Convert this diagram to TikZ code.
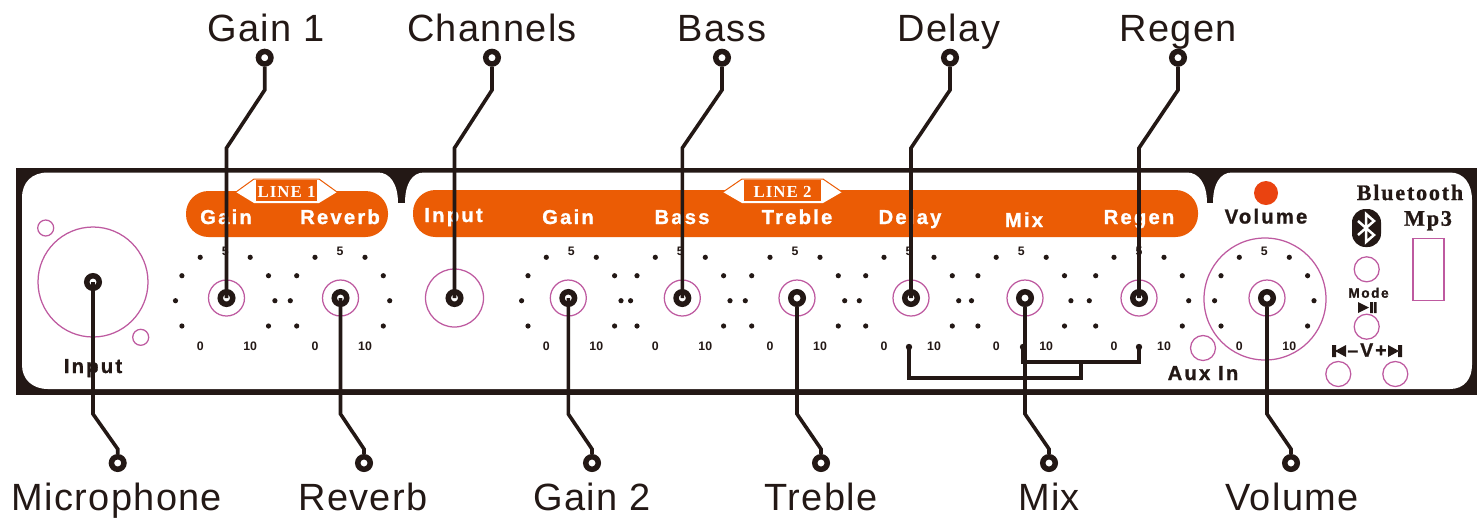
\documentclass[tikz,border=0pt]{standalone}
\usepackage{fontspec}
\setmainfont{Liberation Sans}
\newfontfamily\callfont[LetterSpace=3.5]{Liberation Sans}
\newfontfamily\panelfont[LetterSpace=11,BoldFeatures={FakeBold=1.2}]{Liberation Sans}
\newfontfamily\numfont{Liberation Sans}
\newfontfamily\tagfont[LetterSpace=6]{Liberation Serif}
\newfontfamily\bluefont[LetterSpace=8,BoldFeatures={FakeBold=1}]{Liberation Serif}
\definecolor{panelblack}{RGB}{35,24,21}
\definecolor{panelorange}{RGB}{235,92,5}
\definecolor{panelpurple}{RGB}{190,90,160}
\definecolor{panelred}{RGB}{234,67,16}
\tikzset{
  leader/.style={panelblack, line width=0.072cm, line join=miter},
  knobdisc/.style={circle, draw=panelblack, fill=white, line width=0.11cm, minimum size=0.25cm, inner sep=0pt},
  ringline/.style={panelpurple, line width=0.025cm},
  calllbl/.style={panelblack, anchor=base, font=\callfont\fontsize{21.6}{26}\selectfont},
  whitelbl/.style={white, anchor=base, font=\panelfont\bfseries\fontsize{11.5}{13}\selectfont},
  blacklbl/.style={panelblack, anchor=base, font=\panelfont\bfseries\fontsize{11.5}{13}\selectfont},
  seriflbl/.style={panelblack, anchor=base, font=\bluefont\bfseries\fontsize{12.6}{14}\selectfont},
  taglbl/.style={white, font=\tagfont\bfseries\fontsize{9.6}{11}\selectfont},
  dialnum/.style={panelblack, font=\numfont\bfseries\fontsize{7}{8}\selectfont}
}

\begin{document}
\begin{tikzpicture}[x=0.02cm, y=-0.02cm]
  \useasboundingbox (0,0) rectangle (1478,529);

  % Panel
  \fill[panelblack] (16,167.5) rectangle (1477,395);
  \fill[white] (48,172.5) -- (378,172.5) .. controls (390,172.5) and (398,184) .. (398,203)
    -- (405,203) .. controls (405,184) and (412,172.5) .. (424,172.5)
    -- (1187,172.5) .. controls (1199,172.5) and (1207,184) .. (1207,203)
    -- (1213,203) .. controls (1213,184) and (1220,172.5) .. (1232,172.5)
    -- (1450,172.5) .. controls (1464,172.5) and (1472,184) .. (1472,200)
    -- (1472,365) .. controls (1472,379) and (1464,389) .. (1450,389)
    -- (48,389) .. controls (32,389) and (22,379) .. (22,365)
    -- (22,198) .. controls (22,182) and (32,172.5) .. (48,172.5) -- cycle;

  % Orange bars
  \fill[panelorange, rounded corners=0.45cm] (186,191) rectangle (388,237);
  \fill[panelorange, rounded corners=0.45cm] (413,190) rectangle (1198,237);

  % Line tags
  \foreach \tagname/\xa/\xb/\xc/\xd/\txt in {tagA/236/254/319/337/LINE 1, tagB/723/742/823/842/LINE 2} {
    \fill[white] (\xa,192) -- (\xb,179) -- (\xc,179) -- (\xd,192) -- (\xc,203) -- (\xb,203) -- cycle;
    \fill[panelorange] (\xb+2,180) rectangle (\xc-2,201);
    \draw[panelorange, line width=0.02cm] (\xa,192) -- (\xb,179) -- (\xc,179) -- (\xd,192);
    \node[taglbl] (\tagname) at ({(\xb+\xc)/2},191.5) {\txt};
  }

  % Labels on the panel
  \foreach \lblname/\px/\py/\txt in {lblGainA/226/224/Gain, lblReverb/340/224/Reverb, lblInputA/453.5/222/Input,
    lblGainB/568/224/Gain, lblBass/682/224/Bass, lblTreble/797/224/Treble, lblDelay/910/224/Delay,
    lblMix/1024/227/Mix, lblRegen/1139/224/Regen}
    \node[whitelbl] (\lblname) at (\px,\py) {\txt};
  \node[blacklbl] (lblInputB) at (93,373) {Input};
  \node[blacklbl] (lblVolume) at (1266,223.5) {Volume};
  \node[blacklbl] (lblAux) at (1203,380) {Aux In};
  \node[blacklbl, font=\panelfont\bfseries\fontsize{7.8}{9}\selectfont] (lblMode) at (1368.5,297.7) {Mode};
  \node[blacklbl, font=\panelfont\bfseries\fontsize{11}{13}\selectfont] (lblVol) at (1367,356.7) {–V+};
  \node[seriflbl] (lblBlue) at (1410,200) {Bluetooth};
  \node[seriflbl] (lblMp) at (1428,225.7) {Mp3};

  % Dials
  \foreach \dial/\dx in {dA/225.2, dB/340, dC/571.3, dD/680.3, dE/795, dF/909, dG/1021.2, dH/1139, dI/1264.3} {
    \foreach \ox/\oy in {25/257.3, 43.3/275.7, 49.7/300.7, 43.3/326} {
      \fill[panelblack] (\dx+\ox,\oy) circle (2.6);
      \fill[panelblack] (\dx-\ox,\oy) circle (2.6);
    }
    \node[dialnum] (\dial five) at (\dx,251) {5};
    \node[dialnum] (\dial zero) at (\dx-25,346) {0};
    \node[dialnum] (\dial ten) at (\dx+25,346) {10};
  }

  % Rings
  \foreach \cx/\cy/\rr in {93/282/55, 45.7/228/8, 140.7/337.3/8, 454.5/298/29, 226.5/298/18, 340.5/298/18,
    568.3/298/18, 682.3/298/18, 797/298/18, 911/298/18, 1025/298/18, 1139/298/18, 1267/298/18,
    1265/299/61, 1203/348/12.5, 1366.7/269.3/12.5, 1366.7/326.7/12.5, 1338.3/374/12.5, 1395.3/374/12.5}
    \draw[ringline] (\cx,\cy) circle (\rr);
  \draw[ringline] (1413,238.7) rectangle (1444,300.3);
  \fill[panelred] (1266,193) circle (12);

  % Bluetooth sign and player keys
  \fill[panelblack, rounded corners=0.27cm] (1352,209) rectangle (1381,247);
  \draw[white, line width=0.05cm, line join=miter] (1358,221) -- (1374,235) -- (1366,242) -- (1366,214) -- (1374,221) -- (1358,235);
  \fill[panelblack] (1358,302) -- (1369,307.5) -- (1358,313) -- cycle;
  \fill[panelblack] (1370,302) rectangle (1373,313) (1374,302) rectangle (1376.5,313);
  \fill[panelblack] (1332,345) rectangle (1336,357) (1346,345) -- (1335,351) -- (1346,357) -- cycle;
  \fill[panelblack] (1398,345) rectangle (1402,357) (1388,345) -- (1399,351) -- (1388,357) -- cycle;

  % Knobs
  \node[knobdisc] (knobMic) at (93,282) {};
  \node[knobdisc] (knobGainA) at (226.5,298) {};
  \node[knobdisc] (knobReverb) at (340.5,298) {};
  \node[knobdisc] (knobChannels) at (454.5,298) {};
  \node[knobdisc] (knobGainB) at (568.3,298) {};
  \node[knobdisc] (knobBass) at (682.3,298) {};
  \node[knobdisc] (knobTreble) at (797,298) {};
  \node[knobdisc] (knobDelay) at (911,298) {};
  \node[knobdisc] (knobMix) at (1025,298) {};
  \node[knobdisc] (knobRegen) at (1139,298) {};
  \node[knobdisc] (knobVolume) at (1267,298) {};

  % Callouts above
  \foreach \tip/\px/\kx/\knob/\txt/\lx in {tipGainA/264.7/226.5/knobGainA.center/Gain 1/266, tipChannels/492/454.5/knobChannels.center/Channels/492,
    tipBass/722/682.3/knobBass.center/Bass/722, tipDelay/950/911/knobDelay.center/Delay/949, tipRegen/1178/1139/knobRegen.center/Regen/1178} {
    \node[knobdisc] (\tip) at (\px,57.7) {};
    \node[calllbl] (\tip txt) at (\lx,41.7) {\txt};
    \draw[leader] (\tip) -- (\px,90) -- (\kx,148) -- (\knob);
  }

  % Callouts below
  \foreach \tip/\px/\kx/\knob/\txt/\lx in {tipMic/117.7/93/knobMic.center/Microphone/117, tipReverb/364/340.5/knobReverb.center/Reverb/363,
    tipGainB/592/568.3/knobGainB.center/Gain 2/592, tipTreble/821/797/knobTreble/Treble/821,
    tipMix/1049/1025/knobMix/Mix/1049, tipVolume/1291/1267/knobVolume/Volume/1292} {
    \node[knobdisc] (\tip) at (\px,463) {};
    \node[calllbl] (\tip txt) at (\lx,510.5) {\txt};
    \draw[leader] (\knob) -- (\kx,414) -- (\px,449) -- (\tip);
  }

  % Mix wiring
  \coordinate (wireDelay) at (909,347);
  \coordinate (wireMix) at (1023,347);
  \coordinate (wireRegen) at (1139,347);
  \foreach \wire in {wireDelay, wireMix, wireRegen}
    \fill[panelblack] (\wire) circle (3.2);
  \draw[leader, line width=0.065cm] (wireDelay) -- (909,378) -- (1081,378) -- (1081,362);
  \draw[leader, line width=0.065cm] (wireMix) -- (1023,362) -- (1139,362) -- (wireRegen);
\end{tikzpicture}
\end{document}
